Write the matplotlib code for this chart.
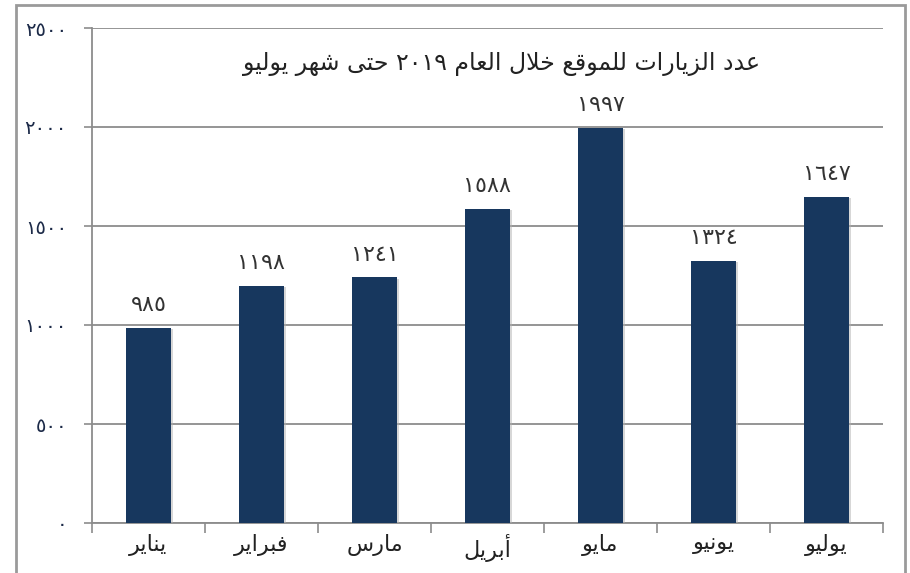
import matplotlib
matplotlib.use('Agg')
import matplotlib.pyplot as plt
import matplotlib.patheffects as pe
from matplotlib.patches import Rectangle
import numpy as np

plt.rcParams['font.family'] = ['DejaVu Sans']

# data
months = ['يناير', 'فبراير', 'مارس', 'أبريل', 'مايو', 'يونيو', 'يوليو']
visits = [985, 1198, 1241, 1588, 1997, 1324, 1647]
y_ticks = [0, 500, 1000, 1500, 2000, 2500]
title = 'عدد الزيارات للموقع خلال العام ٢٠١٩ حتى شهر يوليو'

bar_color = '#17375e'
grid_color = '#8c8c8c'

# --- tiny arabic shaper (matplotlib has no complex text layout) ---
# letter: (isolated, final, initial, medial)  None -> does not join left
FORMS = {
    'ا': (0xFE8D, 0xFE8E, None, None),
    'أ': (0xFE83, 0xFE84, None, None),
    'ب': (0xFE8F, 0xFE90, 0xFE91, 0xFE92),
    'ت': (0xFE95, 0xFE96, 0xFE97, 0xFE98),
    'ح': (0xFEA1, 0xFEA2, 0xFEA3, 0xFEA4),
    'خ': (0xFEA5, 0xFEA6, 0xFEA7, 0xFEA8),
    'د': (0xFEA9, 0xFEAA, None, None),
    'ر': (0xFEAD, 0xFEAE, None, None),
    'ز': (0xFEAF, 0xFEB0, None, None),
    'س': (0xFEB1, 0xFEB2, 0xFEB3, 0xFEB4),
    'ش': (0xFEB5, 0xFEB6, 0xFEB7, 0xFEB8),
    'ع': (0xFEC9, 0xFECA, 0xFECB, 0xFECC),
    'ف': (0xFED1, 0xFED2, 0xFED3, 0xFED4),
    'ق': (0xFED5, 0xFED6, 0xFED7, 0xFED8),
    'ل': (0xFEDD, 0xFEDE, 0xFEDF, 0xFEE0),
    'م': (0xFEE1, 0xFEE2, 0xFEE3, 0xFEE4),
    'ن': (0xFEE5, 0xFEE6, 0xFEE7, 0xFEE8),
    'ه': (0xFEE9, 0xFEEA, 0xFEEB, 0xFEEC),
    'و': (0xFEED, 0xFEEE, None, None),
    'ى': (0xFEEF, 0xFEF0, None, None),
    'ي': (0xFEF1, 0xFEF2, 0xFEF3, 0xFEF4),
    'LA': (0xFEFB, 0xFEFC, None, None),
    'LAA': (0xFEF7, 0xFEF8, None, None),
}


def shape_word(word):
    chars = []
    i = 0
    while i < len(word):
        if word[i] == 'ل' and i + 1 < len(word) and word[i + 1] in 'اأ':
            chars.append('LA' if word[i + 1] == 'ا' else 'LAA')
            i += 2
        else:
            chars.append(word[i])
            i += 1
    out = []
    for k, ch in enumerate(chars):
        if ch not in FORMS:
            out.append(ch)
            continue
        f = FORMS[ch]
        prev_joins = k > 0 and chars[k - 1] in FORMS and FORMS[chars[k - 1]][2] is not None
        next_joins = f[2] is not None and k + 1 < len(chars) and chars[k + 1] in FORMS
        if prev_joins and next_joins:
            code = f[3]
        elif prev_joins:
            code = f[1]
        elif next_joins:
            code = f[2]
        else:
            code = f[0]
        out.append(chr(code))
    return ''.join(reversed(out))


def ar(text):
    words = text.split(' ')
    vis = []
    for w in reversed(words):
        if any(c in FORMS for c in w):
            vis.append(shape_word(w))
        else:
            vis.append(w)
    return ' '.join(vis)


def ar_num(n):
    return str(n).translate(str.maketrans('0123456789', '٠١٢٣٤٥٦٧٨٩'))


fig = plt.figure(figsize=(9.1, 5.73), dpi=100)
ax = fig.add_axes((92 / 910, 50 / 573, 791 / 910, 495 / 573))

x = np.arange(len(months))
bars = ax.bar(x, visits, width=0.39, color=bar_color, zorder=3)
for b in bars:
    b.set_path_effects([pe.SimplePatchShadow(offset=(2, -1), shadow_rgbFace='#b0b0b0', alpha=0.5),
                        pe.Normal()])

for xi, v in zip(x, visits):
    ax.annotate(ar_num(v), (xi, v), xytext=(0, 9), textcoords='offset points',
                ha='center', va='bottom', fontsize=16, color='#333333')

ax.set_xlim(-0.5, len(months) - 0.5)
ax.set_ylim(0, 2500)

ax.set_yticks(y_ticks)
ax.set_yticklabels([ar_num(t) for t in y_ticks], fontsize=14, color='#1c2a48')
ax.tick_params(axis='y', length=6, width=1.2, color=grid_color, pad=12)

ax.set_xticks(np.arange(-0.5, len(months), 1))
ax.set_xticklabels([])
ax.tick_params(axis='x', which='major', length=7, width=1.2, color=grid_color)
ax.set_xticks(x, minor=True)
ax.set_xticklabels([ar(m) for m in months], minor=True, fontsize=16, color='#222222')
ax.tick_params(axis='x', which='minor', length=0, pad=8)

ax.grid(axis='y', color=grid_color, linewidth=1.3, zorder=0)
for s in ['top', 'right']:
    ax.spines[s].set_visible(False)
for s in ['left', 'bottom']:
    ax.spines[s].set_color(grid_color)
    ax.spines[s].set_linewidth(1.3)

ax.text(0.518, 0.928, ar(title), transform=ax.transAxes, ha='center', va='center',
        fontsize=17, color='#222222')

fig.patches.append(Rectangle((16 / 910, -0.05), 889 / 910, 1.05 - 5 / 573,
                             transform=fig.transFigure, fill=False,
                             edgecolor='#9a9a9a', linewidth=2))

fig.savefig('out.png', dpi=100)
